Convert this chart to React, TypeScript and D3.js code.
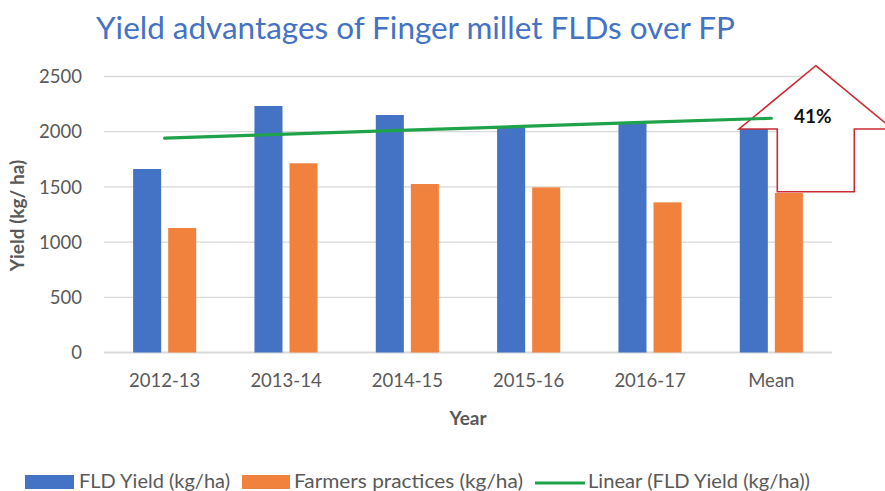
import React, { useEffect } from "react";
import * as d3 from "d3";

const categories = ["2012-13", "2013-14", "2014-15", "2015-16", "2016-17", "Mean"];
const fldYield = [1662, 2233, 2151, 2036, 2076, 2032];
const farmersPractices = [1128, 1714, 1526, 1496, 1360, 1445];
const yTicks = [0, 500, 1000, 1500, 2000, 2500];
const seriesNames = ["FLD Yield (kg/ha)", "Farmers practices (kg/ha)", "Linear (FLD Yield (kg/ha))"];
const advantageLabel = "41%";

const W = 885;
const H = 491;
const FONT = "Lato, 'Open Sans', sans-serif";
const BLUE = "#4472C4";
const ORANGE = "#F0823E";
const GREEN = "#1FA34A";
const RED = "#CC2B33";
const GRID = "#D9D9D9";
const TEXT = "#595959";

export default function App() {
  useEffect(() => {
    document.body.style.margin = "0";
  }, []);

  const x = d3.scaleBand<string>().domain(categories).range([104, 832]).paddingInner(0.48).paddingOuter(0.24);
  const xi = d3.scaleBand<string>().domain(["fld", "fp"]).range([0, x.bandwidth()]).paddingInner(0.2);
  const y = d3.scaleLinear().domain([0, 2500]).range([352.5, 76.5]);

  // linear trend of FLD yield
  const n = fldYield.length;
  const xs = d3.range(1, n + 1);
  const xm = d3.mean(xs) as number;
  const ym = d3.mean(fldYield) as number;
  const slope =
    d3.sum(xs.map((xv, i) => (xv - xm) * (fldYield[i] - ym))) / d3.sum(xs.map((xv) => (xv - xm) ** 2));
  const trend = xs.map((xv, i) => ({ c: categories[i], v: ym + slope * (xv - xm) }));
  const trendLine = d3
    .line<{ c: string; v: number }>()
    .x((d) => (x(d.c) as number) + x.bandwidth() / 2)
    .y((d) => y(d.v));

  // arrow annotation
  const ax = 815.8;
  const arrowPts: [number, number][] = [
    [ax, 65.7],
    [ax + 76.7, 129],
    [ax + 38.5, 129],
    [ax + 38.5, 191.7],
    [ax - 38.5, 191.7],
    [ax - 38.5, 129],
    [ax - 76.7, 129],
  ];

  const legendItems = [
    { sx: 25, sw: 49, tx: 79, tl: 151, kind: "rect", color: BLUE },
    { sx: 242, sw: 48, tx: 294, tl: 229, kind: "rect", color: ORANGE },
    { sx: 535, sw: 50, tx: 588, tl: 222, kind: "line", color: GREEN },
  ];

  return (
    <svg width={W} height={H} style={{ display: "block", background: "#fff" }} fontFamily={FONT}>
      <text
        x={96}
        y={39}
        fill={BLUE}
        fontSize={30.5}
        fontWeight={400}
        textLength={639}
        lengthAdjust="spacingAndGlyphs"
      >
        Yield advantages of Finger millet FLDs over FP
      </text>

      {yTicks.map((t) => (
        <g key={t}>
          <line x1={104} x2={832} y1={y(t)} y2={y(t)} stroke={GRID} strokeWidth={t === 0 ? 1.8 : 1.3} />
          <text x={82} y={y(t)} dy="0.36em" textAnchor="end" fill={TEXT} fontSize={18.5}>
            {t}
          </text>
        </g>
      ))}

      {categories.map((c, i) => (
        <g key={c} transform={`translate(${x(c)},0)`}>
          <rect x={xi("fld")} y={y(fldYield[i])} width={xi.bandwidth()} height={y(0) - y(fldYield[i])} fill={BLUE} />
          <rect
            x={xi("fp")}
            y={y(farmersPractices[i])}
            width={xi.bandwidth()}
            height={y(0) - y(farmersPractices[i])}
            fill={ORANGE}
          />
          <text x={x.bandwidth() / 2} y={387} textAnchor="middle" fill={TEXT} fontSize={18.5}>
            {c}
          </text>
        </g>
      ))}

      <polygon points={arrowPts.map((p) => p.join(",")).join(" ")} fill="#fff" stroke={RED} strokeWidth={1.6} />

      <path d={trendLine(trend) as string} fill="none" stroke={GREEN} strokeWidth={3.2} strokeLinecap="round" />

      <text x={ax - 3} y={123} textAnchor="middle" fill="#111" fontSize={19} fontWeight={700}>
        {advantageLabel}
      </text>

      <text
        transform={`translate(24,${(y(0) + y(2500)) / 2 + 1}) rotate(-90)`}
        textAnchor="middle"
        fill={TEXT}
        fontSize={19}
        fontWeight={700}
      >
        Yield (kg/ ha)
      </text>
      <text x={468} y={425} textAnchor="middle" fill={TEXT} fontSize={19} fontWeight={700}>
        Year
      </text>

      <g fontSize={18.5} fill={TEXT}>
        {legendItems.map((it, i) => (
          <g key={i}>
            {it.kind === "rect" ? (
              <rect x={it.sx} y={475} width={it.sw} height={14} fill={it.color} />
            ) : (
              <line x1={it.sx} x2={it.sx + it.sw} y1={483} y2={483} stroke={it.color} strokeWidth={3.2} />
            )}
            <text x={it.tx} y={488} textLength={it.tl} lengthAdjust="spacingAndGlyphs">
              {seriesNames[i]}
            </text>
          </g>
        ))}
      </g>
    </svg>
  );
}
